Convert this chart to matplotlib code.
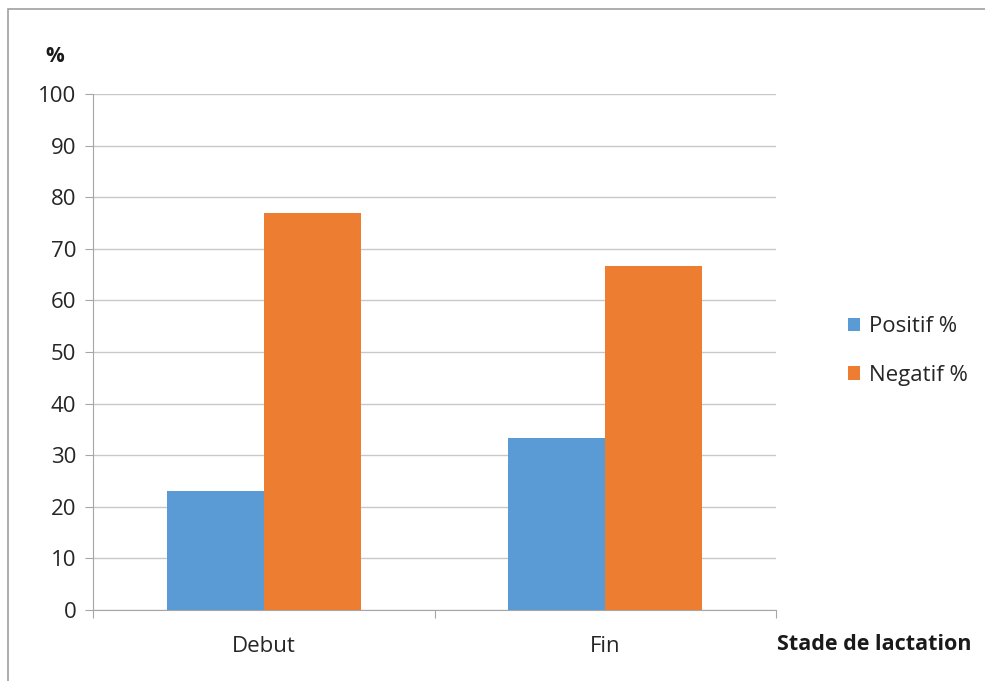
import numpy as np
import matplotlib.pyplot as plt
from matplotlib.patches import Rectangle

plt.rcParams['font.family'] = ['Open Sans', 'DejaVu Sans']

categories = ["Debut", "Fin"]
positif = [23.1, 33.3]
negatif = [76.9, 66.7]
yticks = list(range(0, 101, 10))

fig = plt.figure(figsize=(9.85, 6.81), dpi=100)
ax = fig.add_axes([93 / 985, 1 - 610 / 681, (776 - 93) / 985, (610 - 94) / 681])

# cadre gris autour du graphique
fig.patches.append(Rectangle((8 / 985, -0.01), 1.0, 1 - 9 / 681 + 0.01,
                             transform=fig.transFigure, fill=False,
                             edgecolor='#a0a0a0', linewidth=1.2))

x = np.arange(len(categories))
w = 0.284
ax.bar(x - w / 2, positif, w, color='#5B9BD5', label='Positif %', zorder=3)
ax.bar(x + w / 2, negatif, w, color='#ED7D31', label='Negatif %', zorder=3)

ax.set_xlim(-0.5, 1.5)
ax.set_ylim(0, 100)
ax.set_yticks(yticks)
ax.yaxis.grid(True, color='#c8c8c8', linewidth=1, zorder=0)
ax.tick_params(axis='y', length=6, color='#a6a6a6', labelsize=16,
               labelcolor='#262626', pad=6)

ax.set_xticks([-0.5, 0.5, 1.5])
ax.set_xticklabels([])
ax.set_xticks(x, minor=True)
ax.set_xticklabels(categories, minor=True)
ax.tick_params(axis='x', which='major', length=6, color='#a6a6a6')
ax.tick_params(axis='x', which='minor', length=0, labelsize=16,
               labelcolor='#262626', pad=19)

for s in ['top', 'right']:
    ax.spines[s].set_visible(False)
ax.spines['left'].set_color('#a6a6a6')
ax.spines['bottom'].set_color('#a6a6a6')

fig.text(55 / 985, 1 - 57 / 681, '%', fontsize=15, fontweight='bold',
         ha='center', va='center', color='#1a1a1a')
fig.text(874 / 985, 1 - 645 / 681, 'Stade de lactation', fontsize=15.5,
         fontweight='bold', ha='center', va='center', color='#1a1a1a')

fig.legend(loc='center left', bbox_to_anchor=(828 / 985, 1 - 351 / 681),
           frameon=False, fontsize=16, handlelength=0.55, handleheight=0.55,
           handletextpad=0.4, labelspacing=1.25, labelcolor='#262626')

fig.savefig('out.png', dpi=100)
